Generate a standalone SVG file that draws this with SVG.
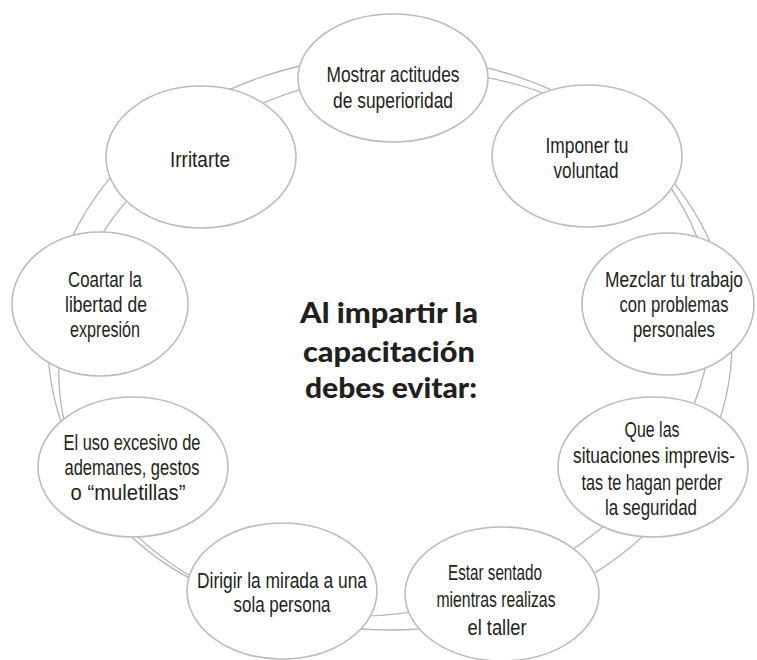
<svg xmlns="http://www.w3.org/2000/svg" width="757" height="660" viewBox="0 0 757 660">
<style>
.ring{fill:none;stroke:#b5b5b8;stroke-width:1.3}
.node ellipse{fill:#fff;stroke:#bcbcbf;stroke-width:1.6}
.node text{font-family:"Liberation Sans",Arial,sans-serif;font-size:21.5px;fill:#231f20;text-anchor:middle}
.title{font-family:Lato,"DejaVu Sans",sans-serif;font-weight:900;font-size:28px;fill:#231f20;text-anchor:middle}
</style>
<rect width="757" height="660" fill="#fff"/>
<g id="connectors">
<ellipse class="ring" cx="390" cy="343" rx="342" ry="287"/>
<ellipse class="ring" cx="385" cy="344" rx="330" ry="268" transform="rotate(-15 385 344)"/>
</g>
<g id="n1" class="node"><ellipse cx="393" cy="78" rx="95" ry="64"/>
<text x="393" y="82" textLength="133" lengthAdjust="spacingAndGlyphs">Mostrar actitudes</text>
<text x="393" y="108" textLength="120" lengthAdjust="spacingAndGlyphs">de superioridad</text></g>
<g id="n2" class="node"><ellipse cx="587" cy="156" rx="95" ry="71"/>
<text x="587" y="153" textLength="83" lengthAdjust="spacingAndGlyphs">Imponer tu</text>
<text x="586" y="178" textLength="65" lengthAdjust="spacingAndGlyphs">voluntad</text></g>
<g id="n3" class="node"><ellipse cx="201" cy="157" rx="95" ry="71"/>
<text x="200" y="167" textLength="60" lengthAdjust="spacingAndGlyphs">Irritarte</text></g>
<g id="n4" class="node"><ellipse cx="100" cy="304" rx="88" ry="72"/>
<text x="105" y="287" textLength="74" lengthAdjust="spacingAndGlyphs">Coartar la</text>
<text x="106" y="312" textLength="82" lengthAdjust="spacingAndGlyphs">libertad de</text>
<text x="105" y="337" textLength="70" lengthAdjust="spacingAndGlyphs">expresión</text></g>
<g id="n5" class="node"><ellipse cx="668" cy="304" rx="86" ry="71"/>
<text x="674" y="287" textLength="138" lengthAdjust="spacingAndGlyphs">Mezclar tu trabajo</text>
<text x="674" y="312" textLength="109" lengthAdjust="spacingAndGlyphs">con problemas</text>
<text x="674" y="337" textLength="82" lengthAdjust="spacingAndGlyphs">personales</text></g>
<g id="n6" class="node"><ellipse cx="133" cy="467" rx="95" ry="70"/>
<text x="132" y="450" textLength="137" lengthAdjust="spacingAndGlyphs">El uso excesivo de</text>
<text x="132" y="475" textLength="135" lengthAdjust="spacingAndGlyphs">ademanes, gestos</text>
<text x="128" y="500" textLength="115" lengthAdjust="spacingAndGlyphs">o “muletillas”</text></g>
<g id="n7" class="node"><ellipse cx="653" cy="467" rx="95" ry="70"/>
<text x="652" y="437" textLength="55" lengthAdjust="spacingAndGlyphs">Que las</text>
<text x="654" y="463" textLength="162" lengthAdjust="spacingAndGlyphs">situaciones imprevis-</text>
<text x="652" y="490" textLength="141" lengthAdjust="spacingAndGlyphs">tas te hagan perder</text>
<text x="651" y="515" textLength="92" lengthAdjust="spacingAndGlyphs">la seguridad</text></g>
<g id="n8" class="node"><ellipse cx="502" cy="594" rx="97" ry="67"/>
<text x="495" y="580" textLength="94" lengthAdjust="spacingAndGlyphs">Estar sentado</text>
<text x="496" y="607" textLength="119" lengthAdjust="spacingAndGlyphs">mientras realizas</text>
<text x="497" y="635" textLength="59" lengthAdjust="spacingAndGlyphs">el taller</text></g>
<g id="n9" class="node"><ellipse cx="282" cy="591" rx="95" ry="68"/>
<text x="282" y="588" textLength="170" lengthAdjust="spacingAndGlyphs">Dirigir la mirada a una</text>
<text x="282" y="612" textLength="97" lengthAdjust="spacingAndGlyphs">sola persona</text></g>
<g id="center">
<text class="title" x="389" y="323" textLength="178" lengthAdjust="spacingAndGlyphs">Al impartir la</text>
<text class="title" x="389" y="362" textLength="172" lengthAdjust="spacingAndGlyphs">capacitación</text>
<text class="title" x="391" y="398" textLength="172" lengthAdjust="spacingAndGlyphs">debes evitar:</text>
</g>
</svg>
